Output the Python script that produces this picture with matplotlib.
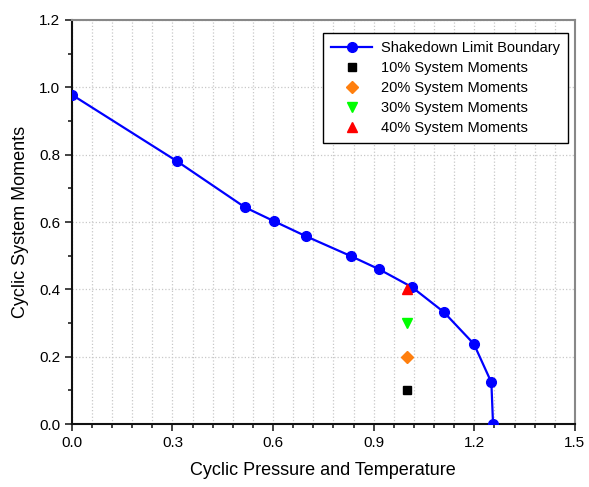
import matplotlib
matplotlib.use("Agg")
import matplotlib.pyplot as plt
from matplotlib.ticker import MultipleLocator

plt.rcParams['font.family'] = ['Liberation Sans', 'DejaVu Sans']

# shakedown limit boundary
presion = [0.0, 0.313, 0.516, 0.602, 0.698, 0.832, 0.916, 1.014, 1.109, 1.199, 1.251, 1.256]
momentos = [0.978, 0.781, 0.644, 0.603, 0.558, 0.499, 0.460, 0.407, 0.333, 0.238, 0.124, 0.0]

# casos de carga a x = 1.0
casos_x = [1.0, 1.0, 1.0, 1.0]
casos_y = [0.1, 0.2, 0.3, 0.4]
etiquetas = ['10% System Moments', '20% System Moments',
             '30% System Moments', '40% System Moments']
marcadores = ['s', 'D', 'v', '^']
colores = ['black', '#ff7f0e', '#00ff00', 'red']
tamanos = [6, 6, 7.5, 7.5]

fig = plt.figure(figsize=(5.89, 4.87), dpi=100)
ax = fig.add_axes([0.122, 0.129, 0.854, 0.830])

ax.plot(presion, momentos, color='#0000ff', lw=1.6, marker='o', ms=7,
        label='Shakedown Limit Boundary', zorder=3)
for x, y, et, m, c, s in zip(casos_x, casos_y, etiquetas, marcadores, colores, tamanos):
    ax.plot(x, y, ls='none', marker=m, color=c, ms=s, label=et, zorder=4)

ax.set_xlim(0, 1.5)
ax.set_ylim(0, 1.2)
ax.xaxis.set_major_locator(MultipleLocator(0.3))
ax.xaxis.set_minor_locator(MultipleLocator(0.06))
ax.yaxis.set_major_locator(MultipleLocator(0.2))
ax.yaxis.set_minor_locator(MultipleLocator(0.1))
ax.xaxis.set_major_formatter(plt.FormatStrFormatter('%.1f'))
ax.yaxis.set_major_formatter(plt.FormatStrFormatter('%.1f'))

ax.grid(True, which='major', axis='both', color='#c8c8c8', ls=':', lw=0.9)
ax.grid(True, which='minor', axis='x', color='#c8c8c8', ls=':', lw=0.9)
ax.set_axisbelow(True)

ax.tick_params(which='both', direction='out', top=False, right=False,
               labelsize=11, width=1.2, color='#222222')
ax.tick_params(which='major', length=5)
ax.tick_params(which='minor', length=3)
for lado in ['left', 'bottom']:
    ax.spines[lado].set_linewidth(1.5)
    ax.spines[lado].set_color('#111111')
for lado in ['top', 'right']:
    ax.spines[lado].set_linewidth(1.5)
    ax.spines[lado].set_color('#888888')

ax.set_xlabel('Cyclic Pressure and Temperature', fontsize=13, labelpad=9)
ax.set_ylabel('Cyclic System Moments', fontsize=13, labelpad=7)

leg = ax.legend(loc='upper right', bbox_to_anchor=(0.986, 0.968), borderaxespad=0,
                fontsize=10.5, frameon=True, fancybox=False, edgecolor='black',
                framealpha=1, borderpad=0.55, handlelength=2.8, handletextpad=0.6,
                labelspacing=0.42)
leg.get_frame().set_linewidth(1.0)

fig.savefig('out.png', dpi=100)
